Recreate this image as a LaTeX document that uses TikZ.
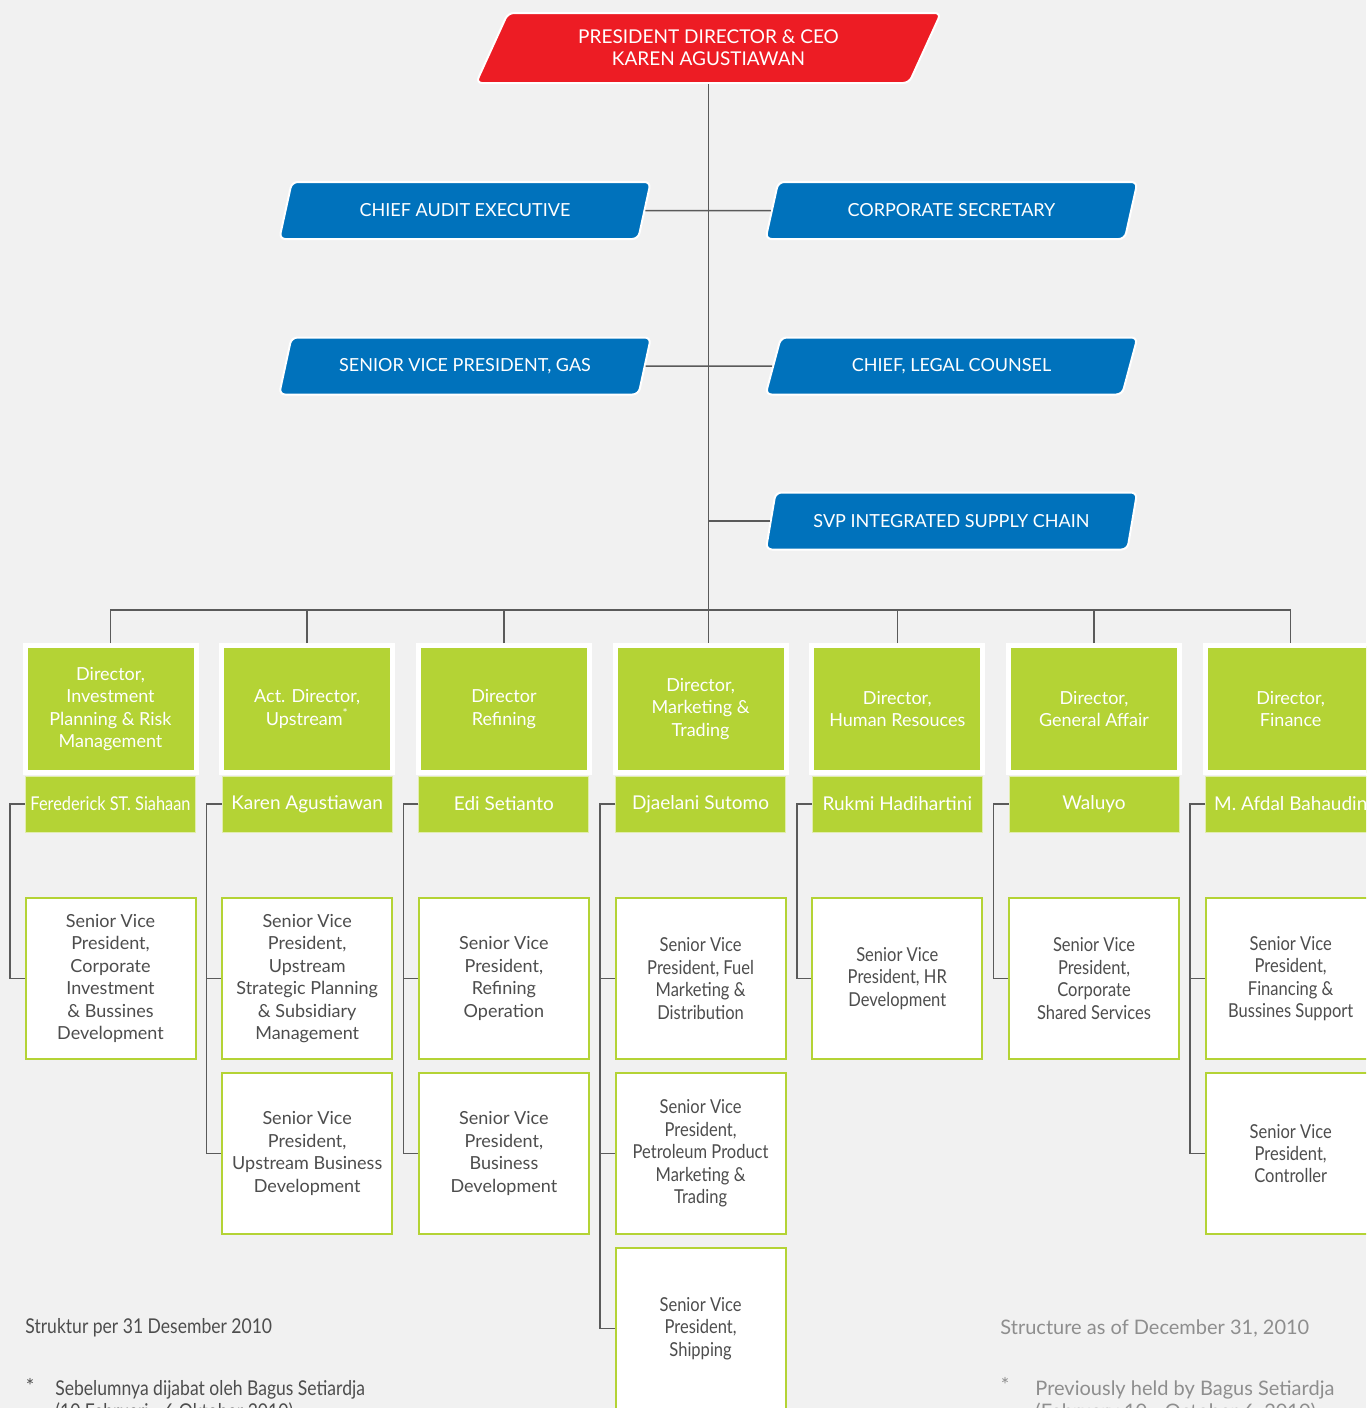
\documentclass[tikz,border=0pt]{standalone}
\usepackage{fontspec}
\setmainfont{Lato}
\newfontfamily\condfont[FakeStretch=0.86]{Lato}
\usetikzlibrary{shapes.geometric}
\definecolor{pagegrey}{HTML}{F1F1F1}
\definecolor{ceored}{HTML}{ED1C24}
\definecolor{unitblue}{HTML}{0072BC}
\definecolor{dirgreen}{HTML}{B4D335}
\definecolor{linegrey}{HTML}{5A5A5A}
\definecolor{textgrey}{HTML}{4D4D4D}
\definecolor{notegrey}{HTML}{8E8E8E}
\tikzset{
  slantbox/.style={trapezium,trapezium left angle=60,trapezium right angle=120,
    trapezium stretches=true,draw=white,line width=1pt,rounded corners=3pt,
    text=white,align=center,inner sep=0pt},
  ceobox/.style={slantbox,fill=ceored,minimum width=233pt,minimum height=35pt,
    font=\fontsize{9.5}{11}\selectfont},
  unitbox/.style={slantbox,fill=unitblue,minimum width=186pt,minimum height=28.5pt,
    font=\fontsize{9}{11}\selectfont},
  dirbox/.style={rectangle,fill=dirgreen,draw=white,line width=2.5pt,minimum width=85.5pt,
    minimum height=63.5pt,text=white,align=center,font=\fontsize{9}{11.25}\selectfont},
  namebar/.style={rectangle,fill=dirgreen,draw=white!60!dirgreen,line width=0.5pt,
    minimum width=85pt,minimum height=28pt,text=white,inner sep=1pt,
    font=\fontsize{9.5}{11}\selectfont},
  svpbox/.style={rectangle,fill=white,draw=dirgreen,line width=1pt,minimum width=85pt,
    minimum height=80.5pt,text=textgrey,align=center,font=\fontsize{9}{11.2}\selectfont},
  svpcond/.style={svpbox,font=\condfont\fontsize{9.6}{11.2}\selectfont},
  orgline/.style={draw=linegrey,line width=0.75pt},
  notetext/.style={inner sep=0pt,align=left,font=\fontsize{10}{11.5}\selectfont},
}
\begin{document}
\begin{tikzpicture}[x=0.5pt,y=-0.5pt]
  % page
  \useasboundingbox (0,0) rectangle (1366,1408);
  \clip (0,0) rectangle (1366,1408);
  \fill[pagegrey] (0,0) rectangle (1366,1408);
  % draw president box
  \node[ceobox] (ceo) at (708.5,48) {PRESIDENT DIRECTOR \& CEO\\KAREN AGUSTIAWAN};
  % draw staff units
  \node[unitbox] (audit) at (465,210.5) {CHIEF AUDIT EXECUTIVE};
  \node[unitbox] (corsec) at (951.5,210.5) {CORPORATE SECRETARY};
  \node[unitbox] (svpgas) at (465,366) {SENIOR VICE PRESIDENT, GAS};
  \node[unitbox] (legal) at (951.5,366) {CHIEF, LEGAL COUNSEL};
  \node[unitbox] (supply) at (951.5,521) {SVP INTEGRATED SUPPLY CHAIN};
  % draw directors and their names
  \foreach \i/\c/\title/\who in {
    1/110.5/{Director,\\Investment\\Planning \& Risk\\Management}/{\condfont Ferederick ST. Siahaan},
    2/307.2/{Act. Director,\\Upstream\textsuperscript{*}}/{Karen Agustiawan},
    3/503.9/{Director\\Refining}/{Edi Setianto},
    4/700.6/{Director,\\Marketing \&\\Trading}/{Djaelani Sutomo},
    5/897.3/{Director,\\Human Resouces}/{Rukmi Hadihartini},
    6/1094/{Director,\\General Affair}/{Waluyo},
    7/1290.7/{Director,\\Finance}/{M. Afdal Bahaudin}}{
    \node[dirbox] (dir\i) at (\c,709) {\title};
    \node[namebar] (name\i) at (\c,804) {\who};
  }
  % draw senior vice presidents
  \node[svpbox] (svp1a) at (110.5,978.5) {Senior Vice\\President,\\Corporate\\Investment\\\& Bussines\\Development};
  \node[svpbox] (svp2a) at (307.2,978.5) {Senior Vice\\President,\\Upstream\\Strategic Planning\\\& Subsidiary\\Management};
  \node[svpbox] (svp2b) at (307.2,1153.5) {Senior Vice\\President,\\Upstream Business\\Development};
  \node[svpbox] (svp3a) at (503.9,978.5) {Senior Vice\\President,\\Refining\\Operation};
  \node[svpbox] (svp3b) at (503.9,1153.5) {Senior Vice\\President,\\Business\\Development};
  \node[svpcond] (svp4a) at (700.6,978.5) {Senior Vice\\President, Fuel\\Marketing \&\\Distribution};
  \node[svpcond] (svp4b) at (700.6,1153.5) {Senior Vice\\President,\\Petroleum Product\\Marketing \&\\Trading};
  \node[svpcond] (svp4c) at (700.6,1328.5) {Senior Vice\\President,\\Shipping};
  \node[svpcond] (svp5a) at (897.3,978.5) {Senior Vice\\President, HR\\Development};
  \node[svpcond] (svp6a) at (1094,978.5) {Senior Vice\\President,\\Corporate\\Shared Services};
  \node[svpcond] (svp7a) at (1290.7,978.5) {Senior Vice\\President,\\Financing \&\\Bussines Support};
  \node[svpcond] (svp7b) at (1290.7,1153.5) {Senior Vice\\President,\\Controller};
  % draw lines from president down
  \coordinate (bus) at (708.5,610);
  \draw[orgline] (ceo.south) -- (ceo.south |- dir4.north);
  \draw[orgline] (audit.east) -- (corsec.west);
  \draw[orgline] (svpgas.east) -- (legal.west);
  \draw[orgline] (supply.west) -- (supply.west -| ceo.south);
  \draw[orgline] (dir1.north) |- (bus) -| (dir7.north);
  \foreach \i in {2,3,5,6}
    \draw[orgline] (dir\i.north) -- (dir\i.north |- bus);
  % draw lines from directors to their svps
  \foreach \i/\s in {1/1a,2/2a,2/2b,3/3a,3/3b,4/4a,4/4b,4/4c,5/5a,6/6a,7/7a,7/7b}
    \draw[orgline] (name\i.west) -- ++(-15,0) |- (svp\s.west);
  % draw notes
  \node[notetext,anchor=west,text=textgrey,font=\condfont\fontsize{10.2}{11.5}\selectfont] (dateid) at (25,1328) {Struktur per 31 Desember 2010};
  \node[notetext,anchor=west,text=notegrey] (dateen) at (1000,1328) {Structure as of December 31, 2010};
  \node[notetext,text=textgrey] (starid) at (30,1386) {*};
  \node[notetext,anchor=north west,text=textgrey,font=\condfont\fontsize{10.2}{11.5}\selectfont] (noteid) at (55,1380) {Sebelumnya dijabat oleh Bagus Setiardja\\(10 Februari - 6 Oktober 2010)};
  \node[notetext,text=notegrey] (staren) at (1005,1385) {*};
  \node[notetext,anchor=north west,text=notegrey] (noteen) at (1035,1380) {Previously held by Bagus Setiardja\\(February 10 - October 6, 2010)};
\end{tikzpicture}
\end{document}
